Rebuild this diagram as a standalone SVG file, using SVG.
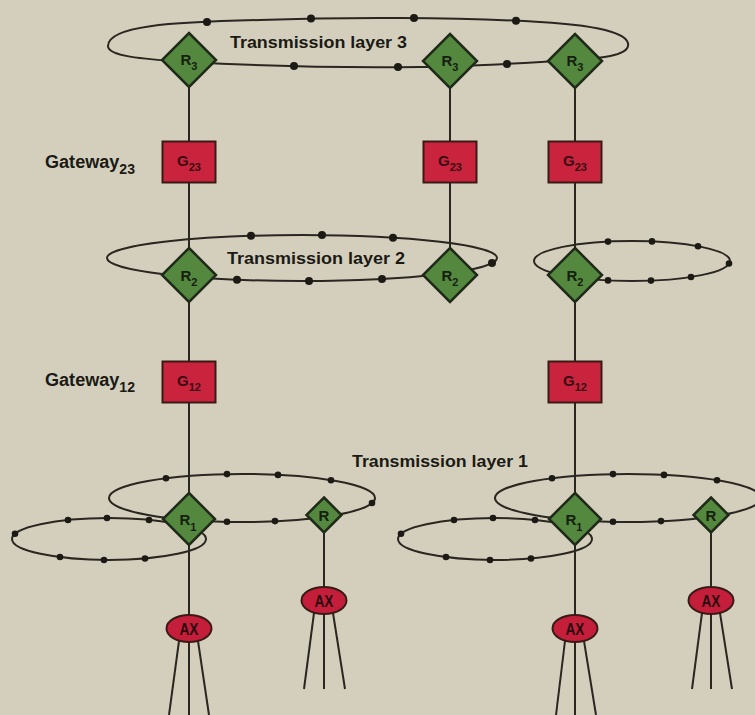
<svg xmlns="http://www.w3.org/2000/svg" width="755" height="715" viewBox="0 0 755 715">
<style>
.bg{fill:#d4cfbd}
.ring{fill:none;stroke:#2a2620;stroke-width:2}
.wire{stroke:#2a2620;stroke-width:2;fill:none}
.dot{fill:#1c1a14}
.dia{fill:#54883f;stroke:#1f2a18;stroke-width:2.5;stroke-linejoin:miter}
.box{fill:#c9233d;stroke:#3a1a16;stroke-width:2}
.ax{fill:#c41e3a;stroke:#3a1a16;stroke-width:2}
text{font-family:"Liberation Sans",Arial,sans-serif;font-weight:bold;fill:#1b1a14}
.lbl{font-size:17px}
.gw{font-size:18px}
.rl{font-size:15px;text-anchor:middle;fill:#16200f}
.gl{font-size:15px;text-anchor:middle;fill:#3a0b12}
.al{font-size:17px;text-anchor:middle;fill:#2a0a0e}
</style>
<rect class="bg" x="0" y="0" width="755" height="715"/>

<g id="connectors">
  <!-- rings -->
  <path class="ring" d="M108,46 C108,26 170,22 260,20 C340,17 460,17 540,22 C610,26 630,36 628,46 C626,56 600,58 575,60 C520,63 480,66 420,67 C340,68 260,66 188,62 C140,59 108,56 108,46 Z"/>
  <ellipse class="ring" cx="302" cy="258" rx="195" ry="23"/>
  <ellipse class="ring" cx="632" cy="261" rx="98" ry="20"/>
  <ellipse class="ring" cx="242" cy="498" rx="133" ry="24"/>
  <ellipse class="ring" cx="109" cy="539" rx="97" ry="21"/>
  <ellipse class="ring" cx="628" cy="498" rx="133" ry="24"/>
  <ellipse class="ring" cx="495" cy="539" rx="97" ry="21"/>
  <!-- vertical links -->
  <line class="wire" x1="189" y1="60" x2="189" y2="615"/>
  <line class="wire" x1="450" y1="61" x2="450" y2="275"/>
  <line class="wire" x1="575" y1="61" x2="575" y2="615"/>
  <line class="wire" x1="324" y1="515" x2="324" y2="588"/>
  <line class="wire" x1="711" y1="515" x2="711" y2="588"/>
  <!-- AX legs -->
  <line class="wire" x1="179" y1="641" x2="169" y2="715"/>
  <line class="wire" x1="189" y1="641" x2="189" y2="715"/>
  <line class="wire" x1="198" y1="641" x2="209" y2="715"/>
  <line class="wire" x1="314" y1="613" x2="304" y2="689"/>
  <line class="wire" x1="324" y1="613" x2="324" y2="689"/>
  <line class="wire" x1="333" y1="613" x2="345" y2="689"/>
  <line class="wire" x1="565" y1="641" x2="556" y2="715"/>
  <line class="wire" x1="575" y1="641" x2="575" y2="715"/>
  <line class="wire" x1="584" y1="641" x2="596" y2="715"/>
  <line class="wire" x1="702" y1="613" x2="692" y2="689"/>
  <line class="wire" x1="711" y1="613" x2="711" y2="689"/>
  <line class="wire" x1="720" y1="613" x2="732" y2="689"/>
  <!-- ring stations -->
  <g id="dots3">
    <circle class="dot" cx="207" cy="22" r="4"/>
    <circle class="dot" cx="311" cy="18.5" r="4"/>
    <circle class="dot" cx="414" cy="18" r="4"/>
    <circle class="dot" cx="516" cy="20.7" r="4"/>
    <circle class="dot" cx="507" cy="64" r="4"/>
    <circle class="dot" cx="398" cy="67" r="4"/>
    <circle class="dot" cx="294" cy="66" r="4"/>
  </g>
  <g id="dots2">
    <circle class="dot" cx="251" cy="235.8" r="4"/>
    <circle class="dot" cx="322" cy="235.1" r="4"/>
    <circle class="dot" cx="393" cy="237.7" r="4"/>
    <circle class="dot" cx="237" cy="279.7" r="4"/>
    <circle class="dot" cx="309" cy="281" r="4"/>
    <circle class="dot" cx="382" cy="279" r="4"/>
    <circle class="dot" cx="492" cy="263" r="4"/>
    <circle class="dot" cx="608" cy="241.6" r="3.3"/>
    <circle class="dot" cx="652" cy="241.4" r="3.3"/>
    <circle class="dot" cx="698" cy="246.2" r="3.3"/>
    <circle class="dot" cx="729" cy="263.5" r="3.3"/>
    <circle class="dot" cx="608" cy="280.4" r="3.3"/>
    <circle class="dot" cx="651" cy="280.6" r="3.3"/>
    <circle class="dot" cx="691" cy="277" r="3.3"/>
  </g>
  <g id="dots1">
    <circle class="dot" cx="166" cy="478.3" r="3.3"/>
    <circle class="dot" cx="227" cy="474.1" r="3.3"/>
    <circle class="dot" cx="278" cy="474.9" r="3.3"/>
    <circle class="dot" cx="331" cy="480.2" r="3.3"/>
    <circle class="dot" cx="372" cy="503" r="3.3"/>
    <circle class="dot" cx="227" cy="521.8" r="3.3"/>
    <circle class="dot" cx="275" cy="521.1" r="3.3"/>
    <circle class="dot" cx="68" cy="520" r="3.3"/>
    <circle class="dot" cx="107" cy="518" r="3.3"/>
    <circle class="dot" cx="149" cy="520" r="3.3"/>
    <circle class="dot" cx="15" cy="533.8" r="3.3"/>
    <circle class="dot" cx="60" cy="557" r="3.3"/>
    <circle class="dot" cx="104" cy="560" r="3.3"/>
    <circle class="dot" cx="145" cy="558.5" r="3.3"/>
    <circle class="dot" cx="552" cy="478.3" r="3.3"/>
    <circle class="dot" cx="613" cy="474.1" r="3.3"/>
    <circle class="dot" cx="664" cy="474.9" r="3.3"/>
    <circle class="dot" cx="717" cy="480.2" r="3.3"/>
    <circle class="dot" cx="613" cy="521.8" r="3.3"/>
    <circle class="dot" cx="661" cy="521.1" r="3.3"/>
    <circle class="dot" cx="454" cy="520" r="3.3"/>
    <circle class="dot" cx="493" cy="518" r="3.3"/>
    <circle class="dot" cx="535" cy="520" r="3.3"/>
    <circle class="dot" cx="401" cy="533.8" r="3.3"/>
    <circle class="dot" cx="446" cy="557" r="3.3"/>
    <circle class="dot" cx="490" cy="560" r="3.3"/>
    <circle class="dot" cx="531" cy="558.5" r="3.3"/>
  </g>
</g>

<!-- labels -->
<text class="lbl" x="230" y="48" textLength="177" lengthAdjust="spacingAndGlyphs">Transmission layer 3</text>
<text class="lbl" x="227" y="264" textLength="178" lengthAdjust="spacingAndGlyphs">Transmission layer 2</text>
<text class="lbl" x="352" y="467" textLength="176" lengthAdjust="spacingAndGlyphs">Transmission layer 1</text>
<text class="gw" x="45" y="168" textLength="90" lengthAdjust="spacingAndGlyphs">Gateway<tspan dy="6" font-size="14">23</tspan></text>
<text class="gw" x="45" y="386" textLength="90" lengthAdjust="spacingAndGlyphs">Gateway<tspan dy="6" font-size="14">12</tspan></text>

<!-- R3 routers -->
<g id="r3a"><path class="dia" d="M189,33 L216,60 L189,87 L162,60 Z"/><text class="rl" x="189" y="65">R<tspan dy="5" font-size="11">3</tspan></text></g>
<g id="r3b"><path class="dia" d="M450,34 L477,61 L450,88 L423,61 Z"/><text class="rl" x="450" y="66">R<tspan dy="5" font-size="11">3</tspan></text></g>
<g id="r3c"><path class="dia" d="M575,34 L602,61 L575,88 L548,61 Z"/><text class="rl" x="575" y="66">R<tspan dy="5" font-size="11">3</tspan></text></g>

<!-- G23 gateways -->
<g id="g23a"><rect class="box" x="162.5" y="141.5" width="53" height="41"/><text class="gl" x="189" y="166">G<tspan dy="5" font-size="11">23</tspan></text></g>
<g id="g23b"><rect class="box" x="423.5" y="141.5" width="53" height="41"/><text class="gl" x="450" y="166">G<tspan dy="5" font-size="11">23</tspan></text></g>
<g id="g23c"><rect class="box" x="548.5" y="141.5" width="53" height="41"/><text class="gl" x="575" y="166">G<tspan dy="5" font-size="11">23</tspan></text></g>

<!-- R2 routers -->
<g id="r2a"><path class="dia" d="M189,248 L216,275 L189,302 L162,275 Z"/><text class="rl" x="189" y="281">R<tspan dy="5" font-size="11">2</tspan></text></g>
<g id="r2b"><path class="dia" d="M450,248 L477,275 L450,302 L423,275 Z"/><text class="rl" x="450" y="281">R<tspan dy="5" font-size="11">2</tspan></text></g>
<g id="r2c"><path class="dia" d="M575,248 L602,275 L575,302 L548,275 Z"/><text class="rl" x="575" y="281">R<tspan dy="5" font-size="11">2</tspan></text></g>

<!-- G12 gateways -->
<g id="g12a"><rect class="box" x="162.5" y="361.5" width="53" height="41"/><text class="gl" x="189" y="386">G<tspan dy="5" font-size="11">12</tspan></text></g>
<g id="g12b"><rect class="box" x="548.5" y="361.5" width="53" height="41"/><text class="gl" x="575" y="386">G<tspan dy="5" font-size="11">12</tspan></text></g>

<!-- R1 routers and R -->
<g id="r1a"><path class="dia" d="M189,493 L215,519 L189,545 L163,519 Z"/><text class="rl" x="188" y="525">R<tspan dy="6" font-size="11">1</tspan></text></g>
<g id="r1b"><path class="dia" d="M575,493 L601,519 L575,545 L549,519 Z"/><text class="rl" x="574" y="525">R<tspan dy="6" font-size="11">1</tspan></text></g>
<g id="ra"><path class="dia" d="M324,497.5 L341.5,515 L324,532.5 L306.5,515 Z"/><text class="rl" x="324" y="520.5" font-size="13">R</text></g>
<g id="rb"><path class="dia" d="M711,497.5 L728.5,515 L711,532.5 L693.5,515 Z"/><text class="rl" x="711" y="520.5" font-size="13">R</text></g>

<!-- AX access nodes -->
<g id="ax1"><ellipse class="ax" cx="189" cy="628.5" rx="22.5" ry="13.5"/><text class="al" x="189" y="634.5" textLength="19" lengthAdjust="spacingAndGlyphs">AX</text></g>
<g id="ax2"><ellipse class="ax" cx="324" cy="600.5" rx="22.5" ry="13.5"/><text class="al" x="324" y="606.5" textLength="19" lengthAdjust="spacingAndGlyphs">AX</text></g>
<g id="ax3"><ellipse class="ax" cx="575" cy="628.5" rx="22.5" ry="13.5"/><text class="al" x="575" y="634.5" textLength="19" lengthAdjust="spacingAndGlyphs">AX</text></g>
<g id="ax4"><ellipse class="ax" cx="711" cy="600.5" rx="22.5" ry="13.5"/><text class="al" x="711" y="606.5" textLength="19" lengthAdjust="spacingAndGlyphs">AX</text></g>
</svg>
